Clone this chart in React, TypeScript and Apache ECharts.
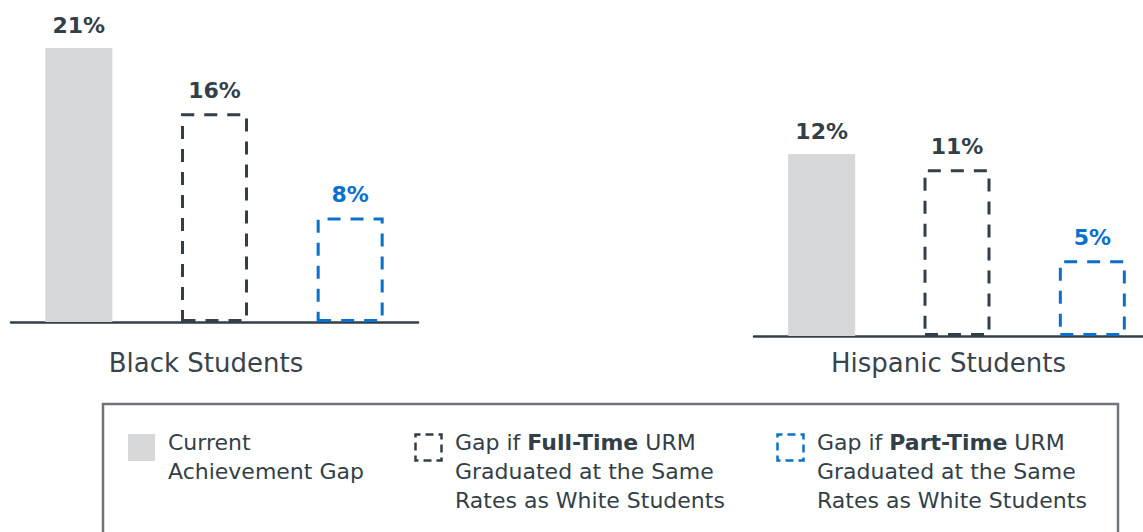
import React, { useEffect, useRef } from "react";
import * as echarts from "echarts";

const categories = ["Current Achievement Gap", "Gap if Full-Time URM", "Gap if Part-Time URM"];
const groupNames = ["Black Students", "Hispanic Students"];
const blackValues = [21, 16, 8];
const hispanicValues = [12, 11, 5];

const FONT = "'DejaVu Sans', Verdana, sans-serif";
const DARK = "#333f48";
const GRAY = "#d6d7d9";
const BLUE = "#0a70cc";

function makeData(values: number[]) {
  const styles = [
    { itemStyle: { color: GRAY }, label: { color: DARK } },
    {
      itemStyle: { color: "rgba(0,0,0,0)", borderColor: DARK, borderWidth: 3, borderType: [13, 10] },
      label: { color: DARK },
    },
    {
      itemStyle: { color: "rgba(0,0,0,0)", borderColor: BLUE, borderWidth: 3, borderType: [13, 10] },
      label: { color: BLUE },
    },
  ];
  return values.map((v, i) => ({ value: v, ...styles[i] }));
}

export default function App() {
  const ref = useRef<HTMLDivElement>(null);
  useEffect(() => {
    if (!ref.current) return;
    const chart = echarts.init(ref.current, null, { renderer: "svg" });
    const xAxisCommon = {
      type: "category" as const,
      data: categories,
      axisLabel: { show: false },
      axisTick: { show: false },
      axisLine: { lineStyle: { color: DARK, width: 2.5 } },
      nameLocation: "middle" as const,
      nameTextStyle: { fontFamily: FONT, fontSize: 26, color: "#3a434b", padding: [0, 17, 0, 0] },
    };
    const yAxisCommon = {
      type: "value" as const,
      min: 0,
      show: false,
      splitLine: { show: false },
    };
    const labelCommon = {
      show: true,
      position: "top" as const,
      distance: 12,
      formatter: "{c}%",
      fontFamily: FONT,
      fontWeight: "bold" as const,
      fontSize: 22,
    };
    const legendText = { fontFamily: FONT, fontSize: 22, lineHeight: 29, fill: DARK };
    const boldRich = { b: { fontFamily: FONT, fontSize: 22, fontWeight: "bold", fill: DARK, lineHeight: 29 } };
    chart.setOption({
      animation: false,
      grid: [
        { left: 11, width: 407, top: 48, bottom: 210, outerBoundsMode: "none" },
        { left: 754, width: 406, top: 154, bottom: 196, outerBoundsMode: "none" },
      ],
      xAxis: [
        { ...xAxisCommon, gridIndex: 0, name: groupNames[0], nameGap: 28 },
        { ...xAxisCommon, gridIndex: 1, name: groupNames[1], nameGap: 14 },
      ],
      yAxis: [
        { ...yAxisCommon, gridIndex: 0, max: Math.max(...blackValues) },
        { ...yAxisCommon, gridIndex: 1, max: Math.max(...hispanicValues) },
      ],
      series: [
        {
          type: "bar",
          xAxisIndex: 0,
          yAxisIndex: 0,
          barWidth: 67,
          data: makeData(blackValues),
          label: labelCommon,
        },
        {
          type: "bar",
          xAxisIndex: 1,
          yAxisIndex: 1,
          barWidth: 67,
          data: makeData(hispanicValues),
          label: labelCommon,
        },
      ],
      graphic: [
        {
          type: "rect",
          shape: { x: 103, y: 404, width: 1015, height: 160 },
          style: { fill: "none", stroke: "#6e7479", lineWidth: 2.5 },
        },
        {
          type: "rect",
          shape: { x: 128, y: 434, width: 27, height: 27 },
          style: { fill: GRAY },
        },
        {
          type: "text",
          x: 168,
          y: 428,
          style: { ...legendText, text: "Current\nAchievement Gap" },
        },
        {
          type: "rect",
          shape: { x: 415.5, y: 434.5, width: 26, height: 26 },
          style: { fill: "none", stroke: DARK, lineWidth: 2.5, lineDash: [8, 5], lineDashOffset: 3 },
        },
        {
          type: "text",
          x: 455,
          y: 428,
          style: {
            ...legendText,
            text: "Gap if {b|Full-Time} URM\nGraduated at the Same\nRates as White Students",
            rich: boldRich,
          },
        },
        {
          type: "rect",
          shape: { x: 777.5, y: 434.5, width: 26, height: 26 },
          style: { fill: "none", stroke: BLUE, lineWidth: 2.5, lineDash: [8, 5], lineDashOffset: 3 },
        },
        {
          type: "text",
          x: 817,
          y: 428,
          style: {
            ...legendText,
            text: "Gap if {b|Part-Time} URM\nGraduated at the Same\nRates as White Students",
            rich: boldRich,
          },
        },
      ],
    });
    return () => chart.dispose();
  }, []);
  return (
    <div
      ref={ref}
      style={{ position: "absolute", left: 0, top: 0, width: 1143, height: 532, background: "#fff" }}
    />
  );
}
